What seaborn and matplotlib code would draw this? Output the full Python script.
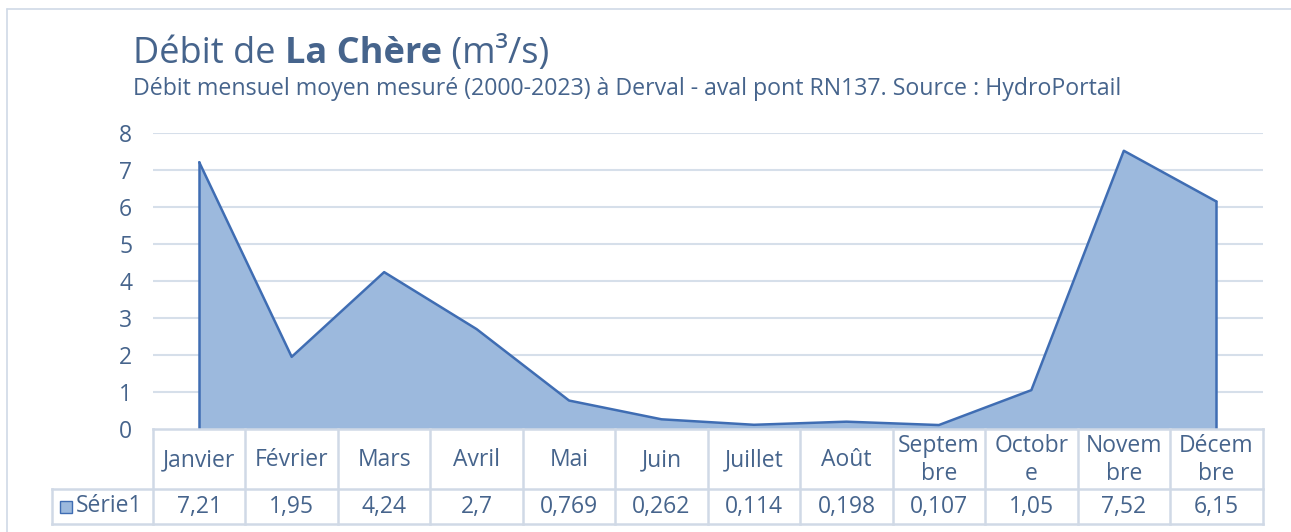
import matplotlib
matplotlib.use("Agg")
import matplotlib.pyplot as plt
from matplotlib.lines import Line2D
import seaborn as sns
import pandas as pd

months = ["Janvier", "Février", "Mars", "Avril", "Mai", "Juin", "Juillet",
          "Août", "Septem\nbre", "Octobr\ne", "Novem\nbre", "Décem\nbre"]
values = [7.21, 1.95, 4.24, 2.7, 0.769, 0.262, 0.114, 0.198, 0.107, 1.05, 7.52, 6.15]
value_labels = ["7,21", "1,95", "4,24", "2,7", "0,769", "0,262", "0,114",
                "0,198", "0,107", "1,05", "7,52", "6,15"]
series_name = "Série1"
yticks = [0, 1, 2, 3, 4, 5, 6, 7, 8]

sns.set_theme(style="white")
plt.rcParams['font.family'] = ['Open Sans', 'DejaVu Sans']

TXT = "#46648c"
FILL = "#9cb9dd"
EDGE = "#3f6db3"
GRID = "#d6dfea"
TLINE = "#d0d9e6"
FS = 16.5

W, H = 1291, 532
fig = plt.figure(figsize=(W / 100, H / 100), dpi=100)
fig.patch.set_facecolor("white")

def fx(px):
    return px / W

def fy(py):
    return 1 - py / H

# outer frame
fig.add_artist(Line2D([fx(7), fx(7)], [fy(9), fy(540)], color=TLINE, lw=1.2, transform=fig.transFigure))
fig.add_artist(Line2D([fx(7), fx(1300)], [fy(9), fy(9)], color=TLINE, lw=1.2, transform=fig.transFigure))

left_px, right_px = 153, 1262.5
top_px, bot_px = 133, 429
ax = fig.add_axes([fx(left_px), fy(bot_px), fx(right_px - left_px), (bot_px - top_px) / H])

df = pd.DataFrame({"idx": list(range(len(months))), "val": values})
ax.fill_between(df["idx"], 0, df["val"], color=FILL, lw=0, zorder=2)
sns.lineplot(data=df, x="idx", y="val", ax=ax, color=EDGE, lw=1.8, zorder=3)
ax.plot([df["idx"].iloc[0]] * 2, [0, df["val"].iloc[0]], color=EDGE, lw=1.8, zorder=3)
ax.plot([df["idx"].iloc[-1]] * 2, [0, df["val"].iloc[-1]], color=EDGE, lw=1.8, zorder=3)

ax.set_xlim(-0.5, len(months) - 0.5)
ax.set_ylim(0, 8)
ax.set_yticks(yticks)
ax.set_yticklabels([str(t) for t in yticks])
ax.set_xticks([])
ax.set_xlabel("")
ax.set_ylabel("")
for t in yticks[1:]:
    ax.axhline(t, color=GRID, lw=1.5, zorder=1)
for s in ax.spines.values():
    s.set_visible(False)
ax.tick_params(axis="y", length=0, pad=15, labelsize=FS, labelcolor=TXT)
ax.set_facecolor("none")

# data table
tab_bot = 524
tax = fig.add_axes([fx(left_px), fy(tab_bot), fx(right_px - left_px), (tab_bot - bot_px) / H])
tax.set_xlim(-0.5, len(months) - 0.5)
tax.set_ylim(0, tab_bot - bot_px)
tax.axis("off")
top_y = tab_bot - bot_px
sep_y = tab_bot - 489
unit = (right_px - left_px) / len(months)
leg_left = -0.5 - (left_px - 52) / unit
lk = dict(color=TLINE, lw=1.8, clip_on=False, solid_capstyle="projecting")
tax.plot([-0.5, len(months) - 0.5], [top_y, top_y], **lk)
tax.plot([leg_left, len(months) - 0.5], [sep_y, sep_y], **lk)
tax.plot([leg_left, len(months) - 0.5], [0, 0], **lk)
for i in range(len(months) + 1):
    tax.plot([i - 0.5, i - 0.5], [0, top_y], **lk)
tax.plot([leg_left, leg_left], [0, sep_y], **lk)

for i, (m, v) in enumerate(zip(months, value_labels)):
    tax.text(i, (top_y + sep_y) / 2 - 1, m, ha="center", va="center", fontsize=FS,
             color=TXT, linespacing=1.25, clip_on=False)
    tax.text(i, sep_y / 2, v, ha="center", va="center", fontsize=FS,
             color=TXT, clip_on=False)

# legend key
kx0 = -0.5 - (left_px - 60) / unit
kw = 12 / unit
tax.add_patch(plt.Rectangle((kx0, sep_y / 2 - 6), kw, 12, facecolor=FILL,
                            edgecolor=EDGE, lw=1.0, clip_on=False))
tax.text(-0.5 - (left_px - 76) / unit, sep_y / 2, series_name, ha="left", va="center",
         fontsize=FS, color=TXT, clip_on=False)

# title with mixed weights
fig.canvas.draw()
renderer = fig.canvas.get_renderer()
x = fx(133)
yb = fy(63)
parts = [("Débit de ", "normal"), ("La Chère", "bold"), (" (m³/s)", "normal")]
for txt, wt in parts:
    t = fig.text(x, yb, txt, fontsize=26, fontweight=wt, color=TXT, va="baseline", ha="left")
    bb = t.get_window_extent(renderer=renderer)
    x += bb.width / W

fig.text(fx(133), fy(95), "Débit mensuel moyen mesuré (2000-2023) à Derval - aval pont RN137. Source : HydroPortail",
         fontsize=16.7, color=TXT, va="baseline", ha="left")

fig.savefig("out.png", dpi=100, facecolor="white")
